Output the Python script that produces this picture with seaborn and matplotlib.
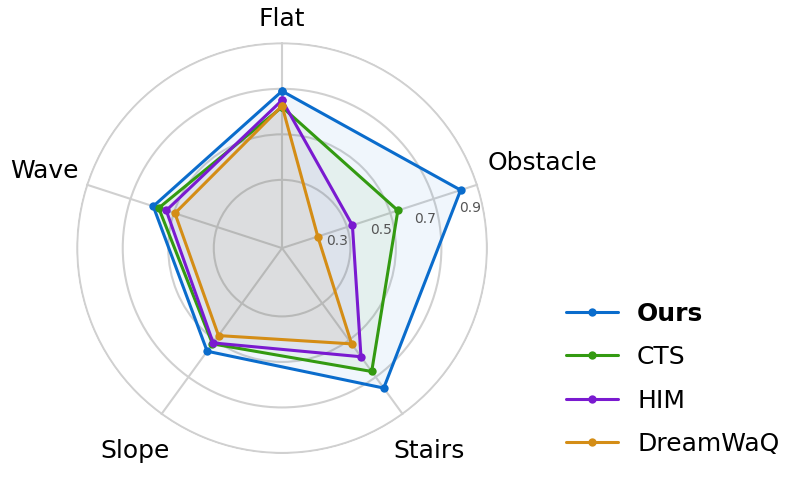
import matplotlib
matplotlib.use("Agg")
import matplotlib.pyplot as plt
import seaborn as sns
import numpy as np

# dados
terrenos = ['Flat', 'Obstacle', 'Stairs', 'Slope', 'Wave']
metodos = ['Ours', 'CTS', 'HIM', 'DreamWaQ']
ours = [0.69, 0.825, 0.76, 0.56, 0.595]
cts = [0.62, 0.535, 0.67, 0.52, 0.57]
him = [0.65, 0.325, 0.59, 0.515, 0.535]
dreamwaq = [0.625, 0.165, 0.52, 0.475, 0.495]
rticks = [0.3, 0.5, 0.7, 0.9]

cores = ['#0a6ccc', '#339a11', '#7a1ad0', '#d48d16']
series = [ours, cts, him, dreamwaq]

sns.set_theme(style='white')
plt.rcParams['font.family'] = ['DejaVu Sans']

fig = plt.figure(figsize=(7.97, 4.79), dpi=100)
ax = fig.add_axes([0.0954, 0.052, 0.517, 0.860], projection='polar')
ax.set_theta_offset(np.pi / 2)
ax.set_theta_direction(-1)

angulos = np.linspace(0, 2 * np.pi, len(terrenos), endpoint=False)
ang_fechado = np.append(angulos, angulos[0] + 2 * np.pi)

for nome, vals, cor in zip(metodos, series, cores):
    v = np.append(vals, vals[0])
    sns.lineplot(x=ang_fechado, y=v, ax=ax, sort=False, color=cor,
                 linewidth=2.2, marker='o', markersize=6,
                 markeredgewidth=0, label=nome)
    ax.fill(ang_fechado, v, color=cor, alpha=0.06)

ax.set_ylim(0, 0.905)
ax.set_yticks(rticks)
ax.set_yticklabels([])
ax.set_xticks(angulos)
ax.set_xticklabels([])
ax.grid(True, color='#d0d0d0', linewidth=1.5)
ax.spines['polar'].set_visible(False)
ax.set_xlabel('')
ax.set_ylabel('')

# rotulos radiais (ao lado do eixo Obstacle)
th_r = np.deg2rad(76)
for t in rticks:
    ax.annotate(str(t), xy=(th_r, t), xytext=(-8, -7),
                textcoords='offset points', ha='center', va='center',
                fontsize=10, color='#555555')

# rotulos dos terrenos
raios_rot = [1.005, 1.205, 1.10, 1.10, 1.10]
for ang, nome, r in zip(angulos, terrenos, raios_rot):
    ax.text(ang, r, nome, ha='center', va='center', fontsize=18,
            color='black', clip_on=False)

ax.get_legend().remove()
handles, labels = ax.get_legend_handles_labels()
leg = fig.legend(handles, labels, loc='center left',
                 bbox_to_anchor=(0.710, 0.209), frameon=False, fontsize=18,
                 labelspacing=0.78, handlelength=2.1, handletextpad=0.75,
                 borderpad=0, borderaxespad=0, labelcolor='black')
leg.get_texts()[0].set_fontweight('bold')

fig.savefig('out.png', dpi=100)
